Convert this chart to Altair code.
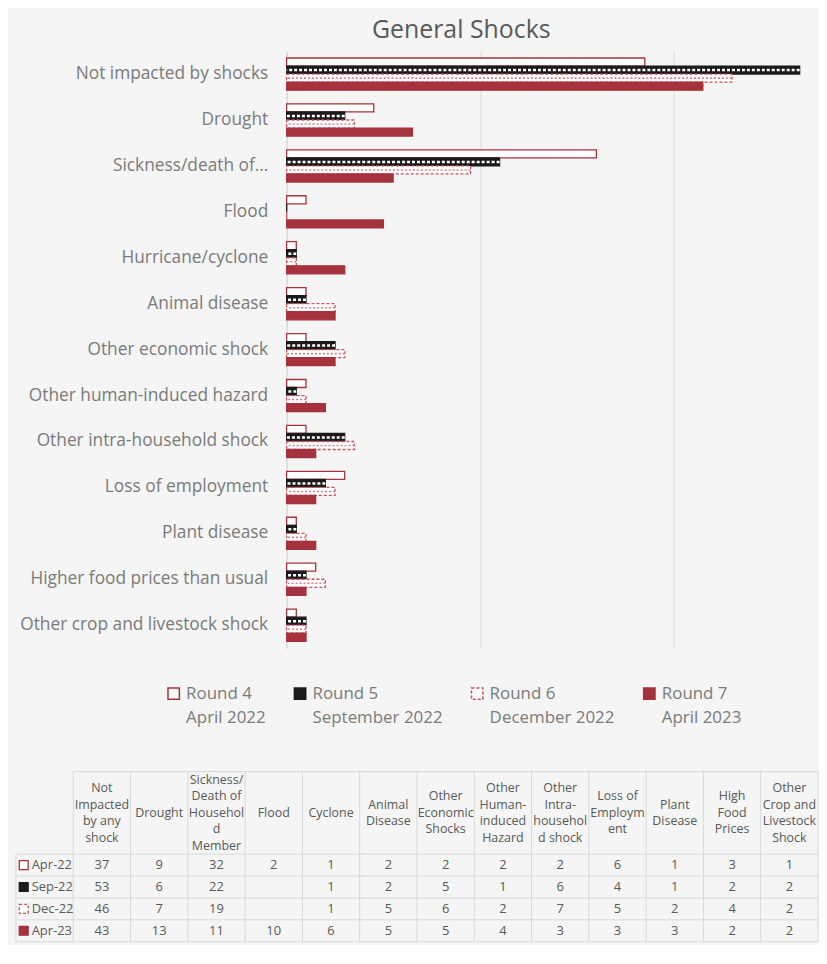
import altair as alt
import pandas as pd

# ---------------- data ----------------
categories = [
    "Not impacted by shocks", "Drought", "Sickness/death of…", "Flood",
    "Hurricane/cyclone", "Animal disease", "Other economic shock",
    "Other human-induced hazard", "Other intra-household shock",
    "Loss of employment", "Plant disease", "Higher food prices than usual",
    "Other crop and livestock shock",
]
series = ["Apr-22", "Sep-22", "Dec-22", "Apr-23"]
round_names = ["Round 4", "Round 5", "Round 6", "Round 7"]
round_dates = ["April 2022", "September 2022", "December 2022", "April 2023"]

apr22 = [37, 9, 32, 2, 1, 2, 2, 2, 2, 6, 1, 3, 1]
sep22 = [53, 6, 22, None, 1, 2, 5, 1, 6, 4, 1, 2, 2]
dec22 = [46, 7, 19, None, 1, 5, 6, 2, 7, 5, 2, 4, 2]
apr23 = [43, 13, 11, 10, 6, 5, 5, 4, 3, 3, 3, 2, 2]

table_headers = [
    ["Not", "Impacted", "by any", "shock"],
    ["Drought"],
    ["Sickness/", "Death of", "Househol", "d", "Member"],
    ["Flood"],
    ["Cyclone"],
    ["Animal", "Disease"],
    ["Other", "Economic", "Shocks"],
    ["Other", "Human-", "induced", "Hazard"],
    ["Other", "Intra-", "househol", "d shock"],
    ["Loss of", "Employm", "ent"],
    ["Plant", "Disease"],
    ["High", "Food", "Prices"],
    ["Other", "Crop and", "Livestock", "Shock"],
]
x_ticks = [0, 20, 40]

# ---------------- styling / layout ----------------
FONT = "Open Sans"
RED = "#a5323d"
BLACK = "#1a1a1a"
PINK = "#c9505d"
LPINK = "#d98089"
TXT = "#7b7b7b"
TTXT = "#595959"
GRID = "#d9d9d9"
BG = "#f4f5f4"

LEFT_EXTENT = 272      # px from chart left edge to plot origin
PLOT_W = 535
PLOT_H = 600
TABLE_W_PX = 806
HEAD_LH = 16.7

all_series = [apr22, sep22, dec22, apr23]
rows = []
for s, vals in zip(series, all_series):
    for c, v in zip(categories, vals):
        rows.append({"cat": c, "series": s, "value": 0 if v is None else v, "zero": 0})
df = pd.DataFrame(rows)

label_expr = " : ".join(
    f"datum.label == '{s}' ? ['{n}', '{d}']" for s, n, d in zip(series, round_names, round_dates)
) + " : datum.label"

fill_scale = alt.Scale(domain=series, range=["#ffffff", BLACK, "#ffffff", RED])
stroke_scale = alt.Scale(domain=series, range=[RED, BLACK, PINK, RED])
dash_scale = alt.Scale(domain=series, range=[[1, 0], [1, 0], [3, 2], [1, 0]])

y_enc = alt.Y(
    "cat:N", sort=categories,
    scale=alt.Scale(paddingInner=0.3, paddingOuter=0.15),
    axis=alt.Axis(title=None, labelFontSize=17.4, labelColor=TXT, labelFont=FONT,
                  labelPadding=19, ticks=False, domain=True, domainColor=GRID,
                  minExtent=LEFT_EXTENT, maxExtent=LEFT_EXTENT, labelLimit=320, grid=False),
)
yoff_enc = alt.YOffset("series:N", sort=series,
                       scale=alt.Scale(domain=series, paddingInner=0, paddingOuter=0))
x_enc = alt.X(
    "value:Q", scale=alt.Scale(domain=[0, 55], nice=False),
    axis=alt.Axis(title=None, labels=False, ticks=False, domain=False, grid=True,
                  values=x_ticks, gridColor=GRID),
)

bars = alt.Chart(df).mark_bar(strokeWidth=1.3).encode(
    y=y_enc,
    yOffset=yoff_enc,
    x=x_enc,
    fill=alt.Fill("series:N", scale=fill_scale, sort=series,
                  legend=alt.Legend(title=None, orient="none", legendX=-122, legendY=637,
                                    direction="horizontal", columns=4, columnPadding=25,
                                    symbolType="square", symbolSize=130,
                                    symbolStrokeWidth=1.5, labelFontSize=17,
                                    labelColor=TXT, labelFont=FONT, labelOffset=4,
                                    labelLimit=300, labelExpr=label_expr)),
    stroke=alt.Stroke("series:N", scale=stroke_scale, sort=series),
    strokeDash=alt.StrokeDash("series:N", scale=dash_scale, sort=series),
)

sep_overlay = alt.Chart(df[df["series"] == "Sep-22"]).mark_rule(
    color="#ffffff", strokeWidth=2.5, strokeDash=[3, 2]
).encode(
    y=alt.Y("cat:N", sort=categories),
    yOffset=alt.YOffset("series:N", sort=series),
    x=alt.X("value:Q"),
    x2=alt.X2("zero:Q"),
)

dec_overlay = alt.Chart(df[df["series"] == "Dec-22"]).mark_rule(
    color=LPINK, strokeWidth=1.6, strokeDash=[2, 2]
).encode(
    y=alt.Y("cat:N", sort=categories),
    yOffset=alt.YOffset("series:N", sort=series),
    x=alt.X("value:Q"),
    x2=alt.X2("zero:Q"),
)

top = alt.layer(bars, sep_overlay, dec_overlay).properties(
    width=PLOT_W, height=PLOT_H,
    title=alt.TitleParams("General Shocks", fontSize=25, color=TTXT, font=FONT,
                          fontWeight="normal", anchor="middle", frame="group",
                          dx=-92, offset=8),
)

# ---------------- table ----------------
ncols = len(table_headers) + 1
col_px = TABLE_W_PX / ncols
row_edges = [0, 83, 105, 127, 149, 171]

lines = []
lines.append({"x": 1, "x2": ncols, "y": row_edges[0], "y2": row_edges[0]})
for e in row_edges[1:]:
    lines.append({"x": 0, "x2": ncols, "y": e, "y2": e})
lines.append({"x": 0, "x2": 0, "y": row_edges[1], "y2": row_edges[-1]})
for i in range(1, ncols + 1):
    lines.append({"x": i, "x2": i, "y": row_edges[0], "y2": row_edges[-1]})
lines_df = pd.DataFrame(lines)

x_lo = LEFT_EXTENT / col_px
tx = alt.Scale(domain=[x_lo, x_lo + PLOT_W / col_px], nice=False, zero=False)
ty = alt.Scale(domain=[0, row_edges[-1]], nice=False, zero=False, reverse=True)

rules = alt.Chart(lines_df).mark_rule(color=GRID, strokeWidth=1).encode(
    x=alt.X("x:Q", scale=tx, axis=None), x2="x2:Q",
    y=alt.Y("y:Q", scale=ty, axis=None), y2="y2:Q",
)

head_center = (row_edges[0] + row_edges[1]) / 2
head_df = pd.DataFrame([
    {"cx": i + 1.5, "cy": head_center - (len(h) - 1) / 2 * HEAD_LH, "lines": h}
    for i, h in enumerate(table_headers)
])
head = alt.Chart(head_df).mark_text(
    fontSize=12.5, font=FONT, color=TTXT, lineHeight=HEAD_LH, baseline="middle", align="center"
).encode(
    x=alt.X("cx:Q", scale=tx, axis=None),
    y=alt.Y("cy:Q", scale=ty, axis=None),
    text="lines",
)

cell_rows = []
for r, (s, vals) in enumerate(zip(series, all_series)):
    cy = (row_edges[r + 1] + row_edges[r + 2]) / 2
    for i, v in enumerate(vals):
        cell_rows.append({"cx": i + 1.5, "cy": cy, "t": "" if v is None else str(v)})
cell_df = pd.DataFrame(cell_rows)
cells = alt.Chart(cell_df).mark_text(
    fontSize=13, font=FONT, color=TTXT, baseline="middle", align="center"
).encode(
    x=alt.X("cx:Q", scale=tx, axis=None),
    y=alt.Y("cy:Q", scale=ty, axis=None),
    text="t:N",
)

rowlab_df = pd.DataFrame([
    {"cx": 0.5, "cy": (row_edges[r + 1] + row_edges[r + 2]) / 2, "series": s}
    for r, s in enumerate(series)
])
row_text = alt.Chart(rowlab_df).mark_text(
    fontSize=13, font=FONT, color=TTXT, baseline="middle", align="left", dx=-13
).encode(
    x=alt.X("cx:Q", scale=tx, axis=None),
    y=alt.Y("cy:Q", scale=ty, axis=None),
    text="series:N",
)
row_sym = alt.Chart(rowlab_df).mark_point(
    shape="square", size=80, filled=False, strokeWidth=1.3, opacity=1,
    fillOpacity=1, xOffset=-21
).encode(
    x=alt.X("cx:Q", scale=tx, axis=None),
    y=alt.Y("cy:Q", scale=ty, axis=None),
    fill=alt.Fill("series:N", scale=fill_scale, legend=None),
    stroke=alt.Stroke("series:N", scale=stroke_scale, legend=None),
    strokeDash=alt.StrokeDash("series:N", scale=dash_scale, legend=None),
)

table = alt.layer(rules, head, cells, row_text, row_sym).properties(
    width=PLOT_W, height=row_edges[-1]
).resolve_scale(fill="independent", stroke="independent", strokeDash="independent")

chart = alt.vconcat(top, table, spacing=123).configure(
    background=BG,
    padding={"left": 7, "top": 8, "right": 0, "bottom": 0},
    font=FONT,
    style={"guide-label": {"lineHeight": 24}},
).configure_view(stroke=None)

chart.save("out.html", embed_options={"renderer": "svg", "actions": False})
